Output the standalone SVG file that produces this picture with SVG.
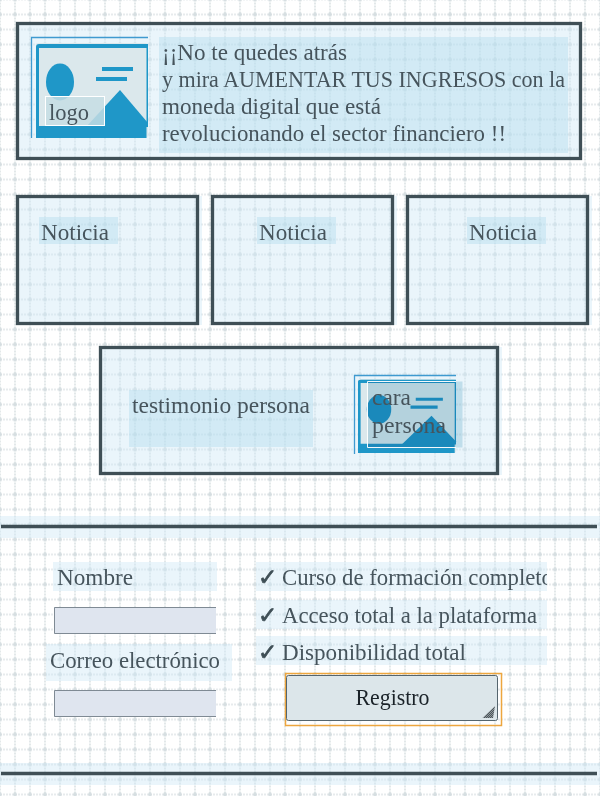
<svg xmlns="http://www.w3.org/2000/svg" width="600" height="796" viewBox="0 0 600 796">
<style>
text{font-family:"Liberation Serif","DejaVu Serif",serif;font-size:23.500px;fill:#46545c}
.box{fill:#cfe9f5;fill-opacity:.44}
.frame{fill:none;stroke:#3f4f56;stroke-width:3.300}
.lab{fill:#a9d8ec;fill-opacity:.36}
.pale{fill:#cfe9f5;fill-opacity:.44}
.inpf{fill:#dfe5ef}
.inpb{fill:none;stroke:#7f8a94;stroke-width:1}
.rule{stroke:#3f4f56;stroke-width:3.300}
.edge{fill:none;stroke:#3f9ad0;stroke-width:1.300}
.chk{font-family:"DejaVu Sans",sans-serif;font-size:23px;font-weight:bold;fill:#3f4f56;stroke:#3f4f56;stroke-width:.7}
</style>
<defs>
<pattern id="g" width="15" height="15" patternUnits="userSpaceOnUse" patternTransform="translate(0 -0.5)">
<path d="M0 0H15M0 0V15M15 0V15M0 15H15" stroke="#cfd8db" stroke-width="1.2" stroke-dasharray="2 1" fill="none"/>
<circle cx="0" cy="0" r="2" fill="#d6dee1"/><circle cx="15" cy="0" r="2" fill="#d6dee1"/><circle cx="0" cy="15" r="2" fill="#d6dee1"/><circle cx="15" cy="15" r="2" fill="#d6dee1"/>
</pattern>
<pattern id="h" width="2" height="2" patternUnits="userSpaceOnUse">
<rect width="2" height="2" fill="#8f989c"/><path d="M0 2L2 0" stroke="#4c555a" stroke-width="1"/>
</pattern>
<clipPath id="c1"><rect x="256" y="560" width="291" height="32"/></clipPath>
<g id="ph">
<rect x="0" y="0" width="112" height="95" rx="3" fill="#dbe8ec"/>
<path d="M0 95V4Q0 1 3 1H112V95H110.500V5H3V83H112V95Z" fill="#1f97c8" fill-rule="evenodd"/>
<ellipse cx="24" cy="39" rx="14" ry="18.500" fill="#1f97c8"/>
<path d="M66 26H97M60 36H91" stroke="#1f97c8" stroke-width="4"/>
<path d="M50 84L84 47L112 80V84Z" fill="#1f97c8"/>
</g>
</defs>
<rect width="600" height="796" fill="#fff"/>
<rect width="600" height="796" fill="url(#g)"/>

<g id="header">
<rect class="box" x="17" y="24" width="563" height="134"/>
<rect class="lab" x="159" y="37" width="409" height="116"/>
<rect class="frame" x="17.500" y="23.500" width="563" height="135"/>
<path class="edge" d="M31.500 138V37.500H148"/>
<use href="#ph" x="36" y="43"/>
<rect x="45.500" y="96.500" width="59" height="29" fill="#c6dde4" fill-opacity=".85" stroke="#fff"/>
<text x="49" y="120" textLength="40" lengthAdjust="spacingAndGlyphs">logo</text>
<text x="162" y="60" textLength="185" lengthAdjust="spacingAndGlyphs">¡¡No te quedes atrás</text>
<text x="162" y="87" textLength="403" lengthAdjust="spacingAndGlyphs">y mira AUMENTAR TUS INGRESOS con la</text>
<text x="162" y="114" textLength="219" lengthAdjust="spacingAndGlyphs">moneda digital que está</text>
<text x="162" y="141" textLength="344" lengthAdjust="spacingAndGlyphs">revolucionando el sector financiero !!</text>
</g>

<g id="noticia1">
<rect class="box" x="17" y="196" width="185" height="129"/>
<rect class="lab" x="39" y="217" width="79" height="27"/>
<rect class="frame" x="17.500" y="196.500" width="180" height="127"/>
<text x="41" y="240" textLength="68" lengthAdjust="spacingAndGlyphs">Noticia</text>
</g>
<g id="noticia2">
<rect class="box" x="212" y="196" width="185" height="129"/>
<rect class="lab" x="257" y="217" width="79" height="27"/>
<rect class="frame" x="212.500" y="196.500" width="180" height="127"/>
<text x="259" y="240" textLength="68" lengthAdjust="spacingAndGlyphs">Noticia</text>
</g>
<g id="noticia3">
<rect class="box" x="407" y="196" width="185" height="129"/>
<rect class="lab" x="467" y="217" width="79" height="27"/>
<rect class="frame" x="407.500" y="196.500" width="180" height="127"/>
<text x="469" y="240" textLength="68" lengthAdjust="spacingAndGlyphs">Noticia</text>
</g>

<g id="testimonio">
<rect class="box" x="100" y="347" width="402" height="128"/>
<rect class="lab" x="129" y="390" width="184" height="57"/>
<rect class="frame" x="100.500" y="347.500" width="397" height="126"/>
<text x="132" y="413" textLength="178" lengthAdjust="spacingAndGlyphs">testimonio persona</text>
</g>
<g id="cara">
<path class="edge" d="M354.500 454V375.500H456"/>
<use href="#ph" transform="translate(358 379) scale(.875 .78)"/>
<rect x="367.500" y="381.500" width="95" height="66" fill="#d2e7ef" style="mix-blend-mode:multiply"/>
<path d="M456 381.500H367.500V447.500H456" fill="none" stroke="#fff" stroke-opacity=".95"/>
<text x="372" y="405" textLength="39" lengthAdjust="spacingAndGlyphs">cara</text>
<text x="372" y="433" textLength="74" lengthAdjust="spacingAndGlyphs">persona</text>
</g>

<g id="rules">
<rect class="pale" x="0" y="516" width="600" height="22"/>
<rect class="pale" x="0" y="763" width="600" height="22"/>
<line class="rule" x1="1" y1="526.500" x2="597" y2="526.500"/>
<line class="rule" x1="1" y1="773.500" x2="597" y2="773.500"/>
</g>

<g id="formulario">
<rect class="pale" x="53" y="562" width="164" height="29"/>
<text x="57" y="585" textLength="76" lengthAdjust="spacingAndGlyphs">Nombre</text>
<rect class="inpf" x="54" y="607" width="162" height="27"/>
<path class="inpb" d="M216 607.500H54.500V633.500H216"/>
<rect class="pale" x="46" y="644" width="186" height="37"/>
<text x="50" y="668" textLength="170" lengthAdjust="spacingAndGlyphs">Correo electrónico</text>
<rect class="inpf" x="54" y="690" width="162" height="27"/>
<path class="inpb" d="M216 690.500H54.500V716.500H216"/>
</g>

<g id="lista">
<rect class="pale" x="256" y="562" width="291" height="29"/>
<rect class="pale" x="256" y="600" width="291" height="29"/>
<rect class="pale" x="256" y="636" width="291" height="29"/>
<text class="chk" x="258" y="585">✓</text>
<text class="chk" x="258" y="623">✓</text>
<text class="chk" x="258" y="660">✓</text>
<text x="282" y="585" textLength="271" lengthAdjust="spacingAndGlyphs" clip-path="url(#c1)">Curso de formación completo</text>
<text x="282" y="623" textLength="255" lengthAdjust="spacingAndGlyphs">Acceso total a la plataforma</text>
<text x="282" y="660" textLength="184" lengthAdjust="spacingAndGlyphs">Disponibilidad total</text>
</g>

<g id="registro">
<rect x="285.500" y="673.500" width="216" height="52" fill="none" stroke="#eda63f" stroke-width="1.500"/>
<rect x="286.500" y="675.500" width="211" height="45" rx="2" fill="#dce6ea" stroke="#55656e"/>
<text x="355.500" y="705" textLength="74" lengthAdjust="spacingAndGlyphs" style="fill:#1a2228">Registro</text>
<path d="M482.500 718L495 706L493 718Z" fill="url(#h)"/>
</g>
</svg>
